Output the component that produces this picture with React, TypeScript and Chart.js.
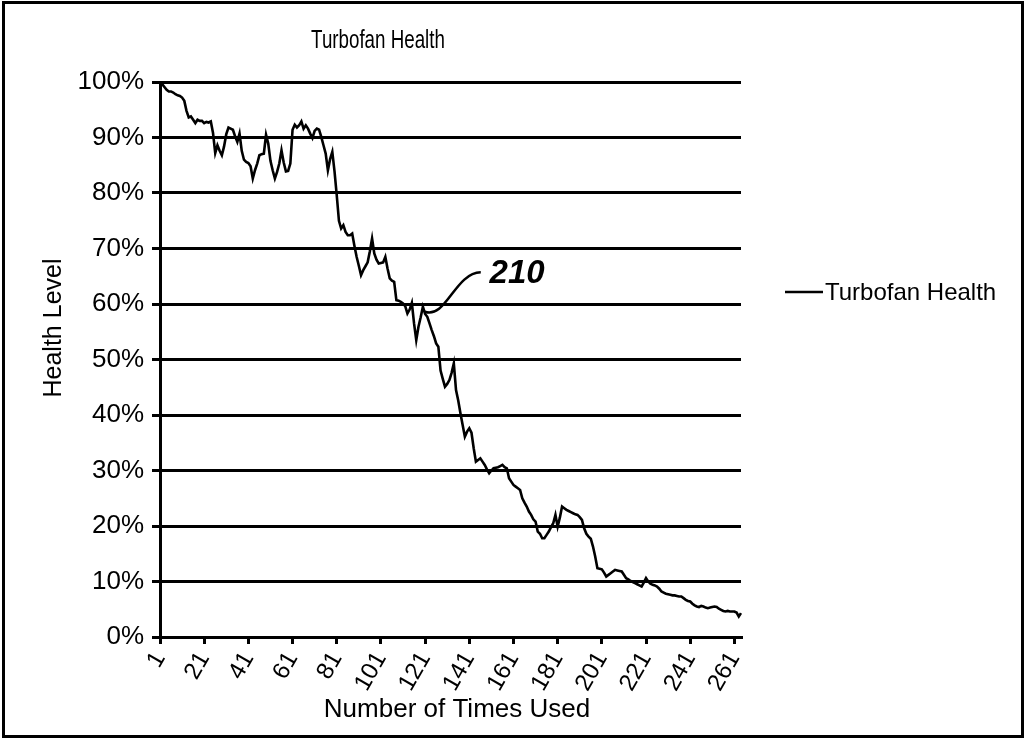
import React, { useEffect, useRef } from "react";
import { Chart, registerables } from "chart.js";

Chart.register(...registerables);

// ---------- data ----------
const categories: string[] = Array.from({ length: 264 }, (_, i) => String(i + 1));

const xTickLabels: string[] = [
  "1", "21", "41", "61", "81", "101", "121", "141", "161", "181", "201", "221", "241", "261",
];

const yTickValues: number[] = [0, 10, 20, 30, 40, 50, 60, 70, 80, 90, 100];

const healthValues: number[] = [
  100, 99.6, 99.1, 98.6, 98.3, 98.3, 98.1, 97.8, 97.6, 97.5,
  97.2, 96.6, 94.8, 93.6, 93.8, 93.2, 92.6, 93.2, 93.0, 93.0,
  92.6, 92.8, 92.7, 92.9, 90.8, 87.2, 88.6, 87.6, 86.8, 88.4,
  90.6, 91.8, 91.6, 91.4, 90.2, 89.2, 90.7, 87.6, 86.0, 85.6,
  85.4, 84.8, 82.6, 84.1, 85.3, 86.8, 87.0, 87.1, 90.5, 88.9,
  85.8, 84.1, 82.6, 83.8, 85.3, 87.7, 85.5, 83.9, 84.0, 85.3,
  91.4, 92.3, 91.8, 92.2, 92.9, 91.6, 92.2, 91.6, 90.7, 89.9,
  91.2, 91.6, 91.4, 90.1, 88.6, 87.1, 84.1, 86.1, 87.4, 83.9,
  79.6, 75.0, 73.6, 74.2, 73.0, 72.4, 72.4, 72.7, 70.5, 68.5,
  66.9, 65.2, 66.1, 66.8, 67.5, 69.5, 71.8, 69.1, 68.0, 67.3,
  67.4, 67.5, 68.5, 66.4, 64.6, 64.2, 64.0, 60.7, 60.6, 60.4,
  60.1, 59.6, 58.3, 59.0, 60.2, 56.5, 53.5, 55.9, 57.6, 59.5,
  58.2, 57.7, 56.5, 55.3, 54.2, 52.9, 52.3, 48.0, 46.5, 45.1,
  45.6, 46.3, 47.6, 49.3, 44.5, 42.6, 40.3, 38.2, 36.1, 37.0,
  37.6, 36.8, 34.0, 31.6, 31.9, 32.2, 31.6, 31.0, 30.2, 29.5,
  30.0, 30.4, 30.5, 30.6, 30.8, 31.0, 30.6, 30.4, 28.6, 28.0,
  27.4, 27.1, 26.8, 26.5, 25.0, 24.2, 23.5, 22.6, 22.0, 21.2,
  20.8, 19.0, 18.6, 17.8, 17.8, 18.4, 19.0, 19.8, 20.5, 22.0,
  19.9, 21.5, 23.5, 23.2, 22.9, 22.7, 22.5, 22.3, 22.1, 22.0,
  21.6, 21.1, 19.6, 18.6, 18.1, 17.7, 16.3, 14.5, 12.4, 12.3,
  12.2, 11.6, 10.9, 11.2, 11.5, 11.8, 12.1, 12.0, 11.9, 11.8,
  11.2, 10.6, 10.4, 10.1, 9.9, 9.7, 9.5, 9.3, 9.1, 9.8,
  10.6, 10.0, 9.6, 9.4, 9.3, 9.1, 8.7, 8.2, 8.0, 7.8,
  7.7, 7.6, 7.5, 7.5, 7.4, 7.3, 7.3, 7.0, 6.7, 6.5,
  6.4, 6.0, 5.7, 5.5, 5.4, 5.6, 5.5, 5.3, 5.2, 5.3,
  5.4, 5.5, 5.4, 5.1, 4.9, 4.7, 4.6, 4.7, 4.6, 4.6,
  4.6, 4.4, 3.7, 4.3,
];

const TITLE = "Turbofan Health";
const SERIES_NAME = "Turbofan Health";
const X_TITLE = "Number of Times Used";
const Y_TITLE = "Health Level";
const CALLOUT_LABEL = "210";

// callout leader in data units (category index, percent)
const CALLOUT = {
  start: { x: 119.8, y: 58.6 },
  cp1: { x: 129.5, y: 57.2 },
  cp2: { x: 133.5, y: 65.6 },
  end: { x: 145.2, y: 65.7 },
  text: { x: 149.2, y: 63.8 },
};

const FONT = "'Liberation Sans', 'DejaVu Sans', Arial, sans-serif";

const decorPlugin = {
  id: "decor",
  afterDraw(chart: any) {
    const ctx = chart.ctx as CanvasRenderingContext2D;
    const xs = chart.scales.x;
    const ys = chart.scales.y;
    ctx.save();
    ctx.strokeStyle = "#000";
    ctx.fillStyle = "#000";

    // outer frame
    ctx.lineWidth = 3;
    ctx.strokeRect(3.5, 2.5, 1019, 734);

    // title (condensed)
    ctx.save();
    ctx.font = `25px ${FONT}`;
    ctx.textAlign = "center";
    ctx.textBaseline = "alphabetic";
    ctx.translate(378, 48);
    ctx.scale(0.75, 1);
    ctx.fillText(TITLE, 0, 0);
    ctx.restore();

    ctx.textAlign = "center";
    ctx.textBaseline = "alphabetic";

    // x axis title
    ctx.font = `26px ${FONT}`;
    ctx.fillText(X_TITLE, 457, 717);

    // y axis title
    ctx.font = `25px ${FONT}`;
    ctx.save();
    ctx.translate(61, 328);
    ctx.rotate(-Math.PI / 2);
    ctx.fillText(Y_TITLE, 0, 0);
    ctx.restore();

    // legend
    ctx.lineWidth = 2.5;
    ctx.beginPath();
    ctx.moveTo(785, 292);
    ctx.lineTo(823, 292);
    ctx.stroke();
    ctx.font = `24px ${FONT}`;
    ctx.textAlign = "left";
    ctx.fillText(SERIES_NAME, 825, 300);

    // callout
    const px = (p: { x: number; y: number }) => [xs.getPixelForValue(p.x), ys.getPixelForValue(p.y)];
    const [sx, sy] = px(CALLOUT.start);
    const [c1x, c1y] = px(CALLOUT.cp1);
    const [c2x, c2y] = px(CALLOUT.cp2);
    const [ex, ey] = px(CALLOUT.end);
    ctx.lineWidth = 2.5;
    ctx.beginPath();
    ctx.moveTo(sx, sy);
    ctx.bezierCurveTo(c1x, c1y, c2x, c2y, ex, ey);
    ctx.stroke();
    const [tx, ty] = px(CALLOUT.text);
    ctx.font = `italic bold 33px ${FONT}`;
    ctx.textAlign = "left";
    ctx.fillText(CALLOUT_LABEL, tx, ty);

    ctx.restore();
  },
};

export default function App() {
  const ref = useRef<HTMLCanvasElement | null>(null);

  useEffect(() => {
    if (!ref.current) return;
    Chart.defaults.color = "#000";
    const chart = new Chart(ref.current, {
      type: "line",
      data: {
        labels: categories,
        datasets: [
          {
            label: SERIES_NAME,
            data: healthValues,
            borderColor: "#000",
            borderWidth: 2.6,
            pointRadius: 0,
            tension: 0,
            fill: false,
          },
        ],
      },
      options: {
        animation: false,
        responsive: false,
        devicePixelRatio: 1,
        layout: { padding: { left: 0, top: 82, right: 286, bottom: 0 } },
        plugins: {
          legend: { display: false },
          title: { display: false },
          tooltip: { enabled: false },
        },
        scales: {
          x: {
            type: "category",
            offset: false,
            grid: {
              display: true,
              drawOnChartArea: false,
              drawTicks: true,
              tickLength: 7,
              color: "#000",
              lineWidth: 3,
            },
            border: { display: true, color: "#000", width: 3 },
            afterBuildTicks: (axis: any) => {
              axis.ticks = axis.ticks.filter((t: any) => xTickLabels.includes(categories[t.value]));
            },
            afterFit: (axis: any) => {
              axis.height = 103;
            },
            ticks: {
              autoSkip: false,
              minRotation: 60,
              maxRotation: 60,
              padding: 3,
              color: "#000",
              font: { family: FONT, size: 24 },
            },
          },
          y: {
            min: 0,
            max: 100,
            afterBuildTicks: (axis: any) => {
              axis.ticks = yTickValues.map((v) => ({ value: v }));
            },
            afterFit: (axis: any) => {
              axis.width = 160;
            },
            grid: {
              color: "#000",
              lineWidth: 3,
              drawTicks: true,
              tickLength: 8,
            },
            border: { display: true, color: "#000", width: 3 },
            ticks: {
              stepSize: 10,
              padding: 8,
              color: "#000",
              font: { family: FONT, size: 26 },
              callback: (v: any) => `${v}%`,
            },
          },
        },
      },
      plugins: [decorPlugin],
    } as any);
    return () => chart.destroy();
  }, []);

  return (
    <div style={{ position: "fixed", left: 0, top: 0, width: 1027, height: 740, background: "#fff" }}>
      <canvas ref={ref} width={1027} height={740} style={{ width: 1027, height: 740, display: "block" }} />
    </div>
  );
}
